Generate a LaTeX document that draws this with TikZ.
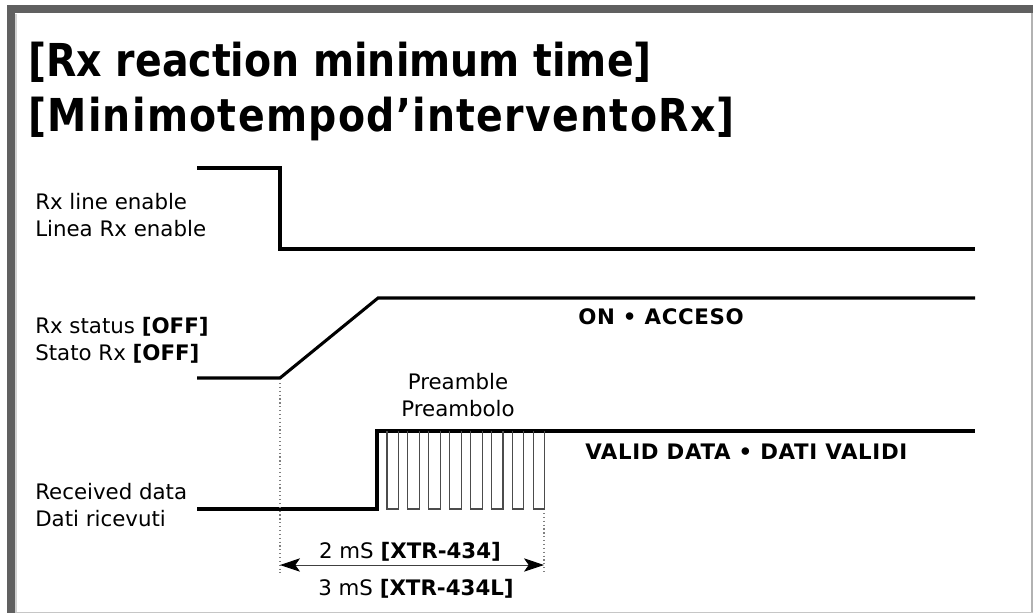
\documentclass[tikz,border=0pt]{standalone}
\usepackage{fontspec}
\setmainfont{DejaVu Sans}
\usetikzlibrary{calc,positioning,arrows.meta}

\begin{document}
\begin{tikzpicture}[x=0.75pt,y=-0.75pt]
    % Styles for the timing chart
    \tikzset{
        wave/.style={line width=2.3pt, line join=miter},
        pulse/.style={line width=0.8pt, black!70},
        guide/.style={gray, dotted, line width=0.9pt},
        span arrow/.style={{Stealth[length=15pt,width=10pt,inset=3.5pt,black]}-{Stealth[length=15pt,width=10pt,inset=3.5pt,black]}, gray!50!black, line width=0.7pt},
        sig label/.style={anchor=west, align=left, inner sep=0pt, font=\fontsize{16}{20}\selectfont},
        state label/.style={anchor=west, inner sep=0pt, font=\bfseries\fontsize{16}{18}\selectfont\addfontfeatures{LetterSpace=3}},
        title text/.style={anchor=west, inner sep=0pt, font=\bfseries\fontsize{34}{38}\selectfont}
    }
    \useasboundingbox (0,0) rectangle (1034,615);

    % Frame
    \fill[white] (7,5) rectangle (1033,613);
    \fill[gray!75!black] (7,5) rectangle (1033,13);
    \fill[gray!75!black] (7,5) rectangle (15,613);
    \draw[gray!35, line width=1pt] (16,14) -- (16,613);
    \draw[gray!60, line width=1.4pt] (1032,13) -- (1032,613);
    \draw[gray!45, line width=1.4pt] (15,612.5) -- (1033,612.5);

    % Title
    \node[title text] (title en) at (28,62) {\scalebox{0.87}[1]{[Rx reaction minimum time]}};
    \node[title text] (title it) at (28,119) {\scalebox{0.87}[1]{\addfontfeatures{LetterSpace=3.3}[Minimotempod'interventoRx]}};

    % Key instants
    \coordinate (t0) at (280,0);
    \coordinate (t1) at (378,0);
    \coordinate (t2) at (544,0);

    % Waveforms
    \draw[wave] (197,168) -- (t0 |- 0,168) -- (t0 |- 0,249) -- (975,249);
    \draw[wave] (197,378) -- (t0 |- 0,378) -- (t1 |- 0,298) -- (975,298);
    \draw[wave] (197,509) -- (377,509) -- (377,431) -- (975,431);

    % Preamble pulses
    \foreach \i in {0,...,7} {
        \pgfmathsetmacro\xa{387+20.9*\i}
        \draw[pulse] (\xa,431) -- (\xa,509) -- ++(11.5,0) -- ++(0,-78);
    }

    % Timing guides
    \coordinate (g0 top) at (280,383);
    \coordinate (g0 bot) at (280,573);
    \coordinate (g2 top) at (544,513);
    \coordinate (g2 bot) at (544,573);
    \draw[guide] (g0 top) -- (g0 bot);
    \draw[guide] (g2 top) -- (g2 bot);
    \coordinate (span left) at (280,565);
    \coordinate (span right) at (544,565);
    \draw[span arrow] (span left) -- (span right);

    % Labels
    \node[sig label] (enable) at (35,215) {Rx line enable\\Linea Rx enable};
    \node[sig label] (status) at (35,340) {Rx status \textbf{[OFF]}\\Stato Rx \textbf{[OFF]}};
    \node[sig label] (data) at (35,505) {Received data\\Dati ricevuti};
    \node[sig label, anchor=center, align=center] (preamble) at (458,395) {Preamble\\Preambolo};
    \node[state label] (on) at (578,317) {ON • ACCESO};
    \node[state label] (valid) at (585,452) {VALID DATA • DATI VALIDI};
    \node[sig label, anchor=center] (time a) at (410,552) {2 mS \textbf{[XTR-434]}};
    \node[sig label, anchor=center] (time b) at (416,589) {3 mS \textbf{[XTR-434L]}};
\end{tikzpicture}
\end{document}
